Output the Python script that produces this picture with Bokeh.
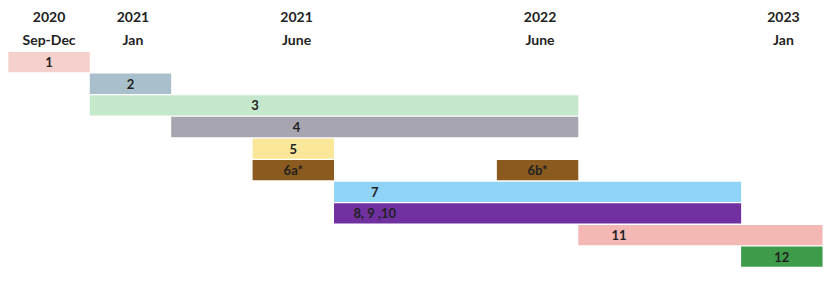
from bokeh.plotting import figure
from bokeh.models import ColumnDataSource, Range1d
from bokeh.core.properties import value
from bokeh.embed import file_html
from bokeh.resources import INLINE

# Header (period) labels
header_x = [0.5, 1.53, 3.54, 6.53, 9.52]
header_year = ["2020", "2021", "2021", "2022", "2023"]
header_period = ["Sep-Dec", "Jan", "June", "June", "Jan"]

# Tasks
tasks = ["1", "2", "3", "4", "5", "6a*", "6b*", "7", "8, 9 ,10", "11", "12"]
starts = [0, 1, 1, 2, 3, 3, 6, 4, 4, 7, 9]
ends = [1, 2, 7, 7, 4, 4, 7, 9, 9, 10, 10]
rows = [0, 1, 2, 3, 4, 5, 5, 6, 7, 8, 9]
label_x = [0.5, 1.5, 3.03, 3.54, 3.5, 3.5, 6.5, 4.5, 4.5, 7.5, 9.5]
colors = ["#f6d0cc", "#a9bfcc", "#c5e8cc", "#a7a6b0", "#fbe79a", "#8a5a1e",
          "#8a5a1e", "#8fd3f8", "#7030a0", "#f4b8b4", "#3d9b4a"]

p = figure(width=824, height=267, output_backend="svg", toolbar_location=None,
           x_range=Range1d(-8 / 83.0, 10 + 2 / 83.0), y_range=Range1d(10, -2.35),
           min_border=0, min_border_left=0, min_border_right=0,
           min_border_top=0, min_border_bottom=0)
p.axis.visible = False
p.grid.visible = False
p.outline_line_color = None
p.background_fill_color = "white"

src = ColumnDataSource(dict(
    left=starts, right=ends,
    top=[r + 0.03 for r in rows], bottom=[r + 0.97 for r in rows],
    row=[r + 0.5 for r in rows], lx=label_x, task=tasks, color=colors))

p.quad(left="left", right="right", top="top", bottom="bottom",
       fill_color="color", line_color=None, source=src)
p.text(x="lx", y="row", text="task", source=src,
       text_font=value("Lato"), text_font_style="bold", text_font_size="13px",
       text_color="#222222", text_align="center", text_baseline="middle")

hsrc = ColumnDataSource(dict(x=header_x, year=header_year, period=header_period,
                             y1=[-1.6] * 5, y2=[-0.55] * 5))
p.text(x="x", y="y1", text="year", source=hsrc,
       text_font=value("Lato"), text_font_style="bold", text_font_size="14px",
       text_color="#222222", text_align="center", text_baseline="middle")
p.text(x="x", y="y2", text="period", source=hsrc,
       text_font=value("Lato"), text_font_style="bold", text_font_size="14px",
       text_color="#222222", text_align="center", text_baseline="middle")

open("out.html", "w").write(file_html(p, INLINE))
